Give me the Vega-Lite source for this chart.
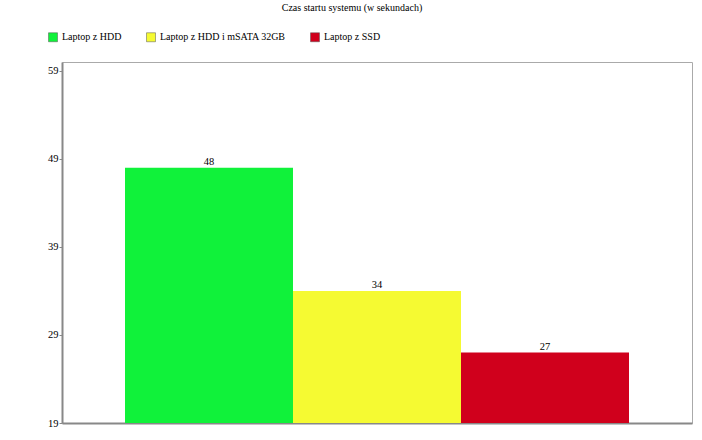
{
  "$schema": "https://vega.github.io/schema/vega-lite/v6.json",
  "width": 630,
  "height": 361,
  "autosize": {"type": "none"},
  "padding": {"left": 62, "top": 62, "right": 10, "bottom": 17},
  "background": "white",
  "title": {"text": "Czas startu systemu (w sekundach)", "font": "Liberation Serif", "fontSize": 10, "fontWeight": "normal", "color": "#000", "anchor": "middle", "dx": -25, "offset": 19},
  "config": {
    "view": {"stroke": "#aaaaaa", "strokeWidth": 1},
    "font": "Liberation Serif"
  },
  "data": {"values": [
    {"laptop": "Laptop z HDD", "czas": 48},
    {"laptop": "Laptop z HDD i mSATA 32GB", "czas": 34},
    {"laptop": "Laptop z SSD", "czas": 27}
  ]},
  "encoding": {
    "x": {"field": "laptop", "type": "nominal", "sort": null,
      "scale": {"paddingInner": 0, "paddingOuter": 0.375},
      "axis": {"labels": false, "ticks": false, "title": null, "domainColor": "#888888", "domainWidth": 2}}
  },
  "layer": [
    {
      "mark": {"type": "bar", "stroke": null},
      "encoding": {
        "y": {"field": "czas", "type": "quantitative",
          "scale": {"domain": [19, 60], "nice": false, "zero": false},
          "axis": {"values": [19, 29, 39, 49, 59], "title": null, "grid": false, "domainColor": "#888888", "domainWidth": 2, "tickColor": "#888888", "tickSize": 3, "labelFont": "Liberation Serif", "labelFontSize": 10.5, "labelColor": "#000", "labelPadding": 1}},
        "y2": {"datum": 19},
        "color": {"field": "laptop", "type": "nominal", "sort": null,
          "scale": {"domain": ["Laptop z HDD", "Laptop z HDD i mSATA 32GB", "Laptop z SSD"], "range": ["#10f23a", "#f5fa32", "#d0001c"]},
          "legend": {"title": null, "orient": "none", "legendX": -14, "legendY": -30, "direction": "horizontal", "symbolType": "square", "symbolSize": 81, "symbolStrokeColor": "#555", "symbolStrokeWidth": 0.5, "labelFont": "Liberation Serif", "labelFontSize": 10, "labelColor": "#000", "columnPadding": 23, "labelOffset": 4}}
      }
    },
    {
      "mark": {"type": "text", "baseline": "bottom", "dy": -1, "font": "Liberation Serif", "fontSize": 10.5, "color": "#000"},
      "encoding": {
        "y": {"field": "czas", "type": "quantitative"},
        "text": {"field": "czas", "type": "quantitative"}
      }
    }
  ]
}
